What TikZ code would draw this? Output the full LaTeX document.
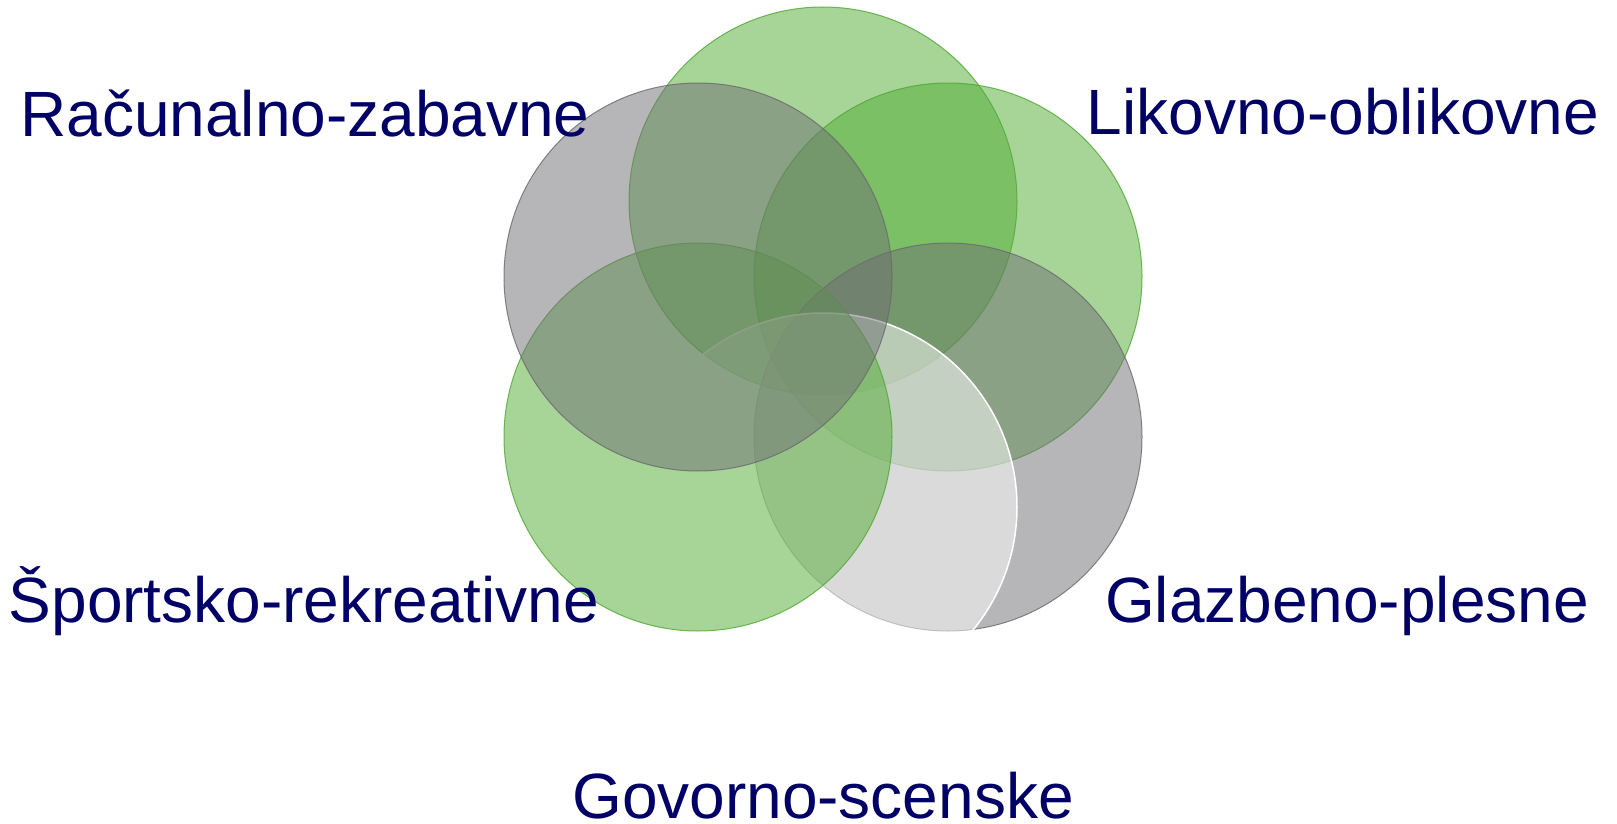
\documentclass[tikz,border=0pt]{standalone}
\usepackage{fontspec}
\setmainfont{Liberation Sans}
\definecolor{cgreen}{RGB}{81,173,51}
\definecolor{cgray}{RGB}{111,111,115}
\definecolor{lgreen}{RGB}{78,168,48}
\definecolor{lgray}{RGB}{105,105,108}
\definecolor{navy}{RGB}{0,0,102}
\begin{document}
\begin{tikzpicture}[x=1pt,y=-1pt,
  ring/.style={circle, minimum size=388pt, inner sep=0pt, line width=1pt, fill opacity=0.5, draw opacity=0.8},
  greenring/.style={ring, fill=cgreen, draw=lgreen},
  grayring/.style={ring, fill=cgray, draw=lgray},
  whitering/.style={ring, fill=white, draw=white, draw opacity=1, line width=1.5pt},
  lab/.style={anchor=base, inner sep=0pt, text=navy, font=\fontsize{64}{70}\selectfont}]
\useasboundingbox (0,0) rectangle (1617,824);
\fill[white] (0,0) rectangle (1617,824);
\node[greenring] (top) at (823,201) {};
\node[greenring] (tr) at (948,277) {};
\node[grayring] (br) at (948,437) {};
\node[whitering] (bot) at (823,507) {};
\node[greenring] (bl) at (698,437) {};
\node[grayring] (tl) at (698,277) {};
\node[lab] (l1) at (305,136) {Računalno-zabavne};
\node[lab] (l2) at (1343,135) {Likovno-oblikovne};
\node[lab] (l3) at (304,622) {Športsko-rekreativne};
\node[lab] (l4) at (1347,622) {Glazbeno-plesne};
\node[lab] (l5) at (823,818) {Govorno-scenske};
\end{tikzpicture}
\end{document}
